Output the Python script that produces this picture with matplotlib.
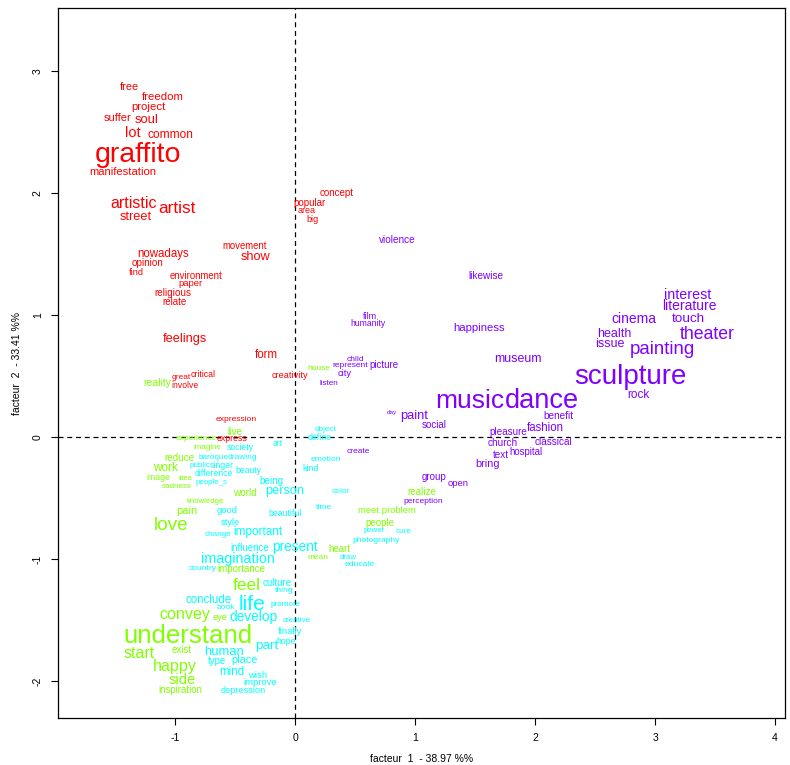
import matplotlib

matplotlib.use("Agg")
import matplotlib.pyplot as plt  # noqa: E402

plt.rcParams["font.family"] = ["Liberation Sans", "DejaVu Sans"]
plt.rcParams["axes.unicode_minus"] = False

# Four clusters of the word map (R rainbow(4) palette).
CLUSTER_COLORS = ["#FF0000", "#80FF00", "#00FFFF", "#8000FF"]

# cluster 1 (red): word, factor 1, factor 2, font size
red_words = ["free", "freedom", "project", "suffer", "soul", "lot", "common",
             "graffito", "manifestation", "artistic", "artist", "street",
             "concept", "popular", "area", "big", "nowadays", "opinion", "find",
             "movement", "show", "environment", "paper", "religious", "relate",
             "feelings", "form", "great", "critical", "involve", "creativity",
             "expression", "express"]
red_x = [-1.383, -1.10, -1.225, -1.475, -1.233, -1.35, -1.042, -1.308, -1.433,
         -1.342, -0.983, -1.325, 0.35, 0.125, 0.10, 0.142, -1.10, -1.225,
         -1.325, -0.417, -0.325, -0.825, -0.875, -1.017, -1.008, -0.917,
         -0.242, -0.95, -0.767, -0.917, -0.042, -0.492, -0.525]
red_y = [2.877, 2.795, 2.713, 2.623, 2.615, 2.508, 2.492, 2.336, 2.18, 1.926,
         1.885, 1.82, 2.008, 1.926, 1.869, 1.795, 1.516, 1.434, 1.361, 1.574,
         1.492, 1.328, 1.27, 1.189, 1.115, 0.82, 0.689, 0.50, 0.525, 0.434,
         0.516, 0.156, 0.0]
red_size = [7.9, 8.2, 8.2, 8, 9.4, 10.5, 8.6, 20.5, 8.1, 11.5, 12.3, 9.2,
            7, 7, 6.5, 6.5, 8.3, 7.1, 6.7, 6.9, 9.2, 6.9, 6.8, 7.1, 7,
            9.2, 8.3, 6, 6.3, 6.2, 6.6, 6.1, 6.2]

# cluster 2 (green)
green_words = ["reality", "house", "live", "experience", "imagine", "reduce",
               "work", "image", "idea", "sadness", "world", "knowledge", "pain",
               "love", "importance", "feel", "convey", "eye", "understand",
               "start", "exist", "happy", "side", "inspiration", "realize",
               "meet problem", "people", "heart", "mean"]
green_x = [-1.15, 0.20, -0.50, -0.825, -0.733, -0.967, -1.083, -1.142, -0.917,
           -0.983, -0.417, -0.75, -0.90, -1.033, -0.45, -0.40, -0.917, -0.625,
           -0.892, -1.30, -0.942, -1.00, -0.942, -0.958, 1.058, 0.767, 0.708,
           0.367, 0.192]
green_y = [0.451, 0.574, 0.049, 0.0, -0.074, -0.164, -0.238, -0.32, -0.328,
           -0.393, -0.451, -0.516, -0.598, -0.705, -1.074, -1.205, -1.443,
           -1.467, -1.607, -1.762, -1.738, -1.869, -1.975, -2.066, -0.443,
           -0.59, -0.697, -0.91, -0.975]
green_size = [7.5, 6, 7.2, 6, 5.8, 7.1, 8.5, 6.3, 5.3, 5.8, 7.2, 5.6, 8, 13.7,
              7, 12.5, 11.6, 6.7, 18.6, 11.5, 7, 11.6, 10.6, 6.9, 7.1, 6.8, 7,
              6.9, 6]

# cluster 3 (cyan)
cyan_words = ["society", "art", "object", "define", "baroque", "drawing",
              "public", "singer", "difference", "beauty", "people_s", "being",
              "person", "kind", "emotion", "color", "time", "beautiful", "good",
              "style", "change", "important", "influence", "present",
              "imagination", "country", "culture", "thing", "conclude", "life",
              "book", "promote", "develop", "creative", "finally", "hope", "part",
              "human", "type", "place", "mind", "wish", "improve", "depression",
              "power", "cure", "photography", "draw", "educate"]
cyan_x = [-0.458, -0.142, 0.258, 0.208, -0.683, -0.442, -0.792, -0.608, -0.675,
          -0.392, -0.70, -0.192, -0.083, 0.133, 0.258, 0.383, 0.242, -0.083,
          -0.567, -0.542, -0.642, -0.308, -0.375, 0.0, -0.475, -0.767, -0.15,
          -0.092, -0.717, -0.358, -0.575, -0.083, -0.342, 0.017, -0.042,
          -0.075, -0.233, -0.592, -0.65, -0.425, -0.525, -0.308, -0.292,
          -0.433, 0.658, 0.908, 0.675, 0.442, 0.542]
cyan_y = [-0.074, -0.041, 0.074, 0.008, -0.156, -0.156, -0.221, -0.221, -0.287,
          -0.262, -0.361, -0.352, -0.426, -0.246, -0.172, -0.434, -0.566,
          -0.615, -0.59, -0.689, -0.787, -0.762, -0.902, -0.885, -0.984,
          -1.066, -1.189, -1.246, -1.32, -1.352, -1.385, -1.361, -1.459,
          -1.492, -1.582, -1.664, -1.697, -1.746, -1.828, -1.82, -1.91, -1.943,
          -2.0, -2.066, -0.754, -0.762, -0.836, -0.975, -1.033]
cyan_size = [6.2, 6.2, 5.9, 6.3, 5.9, 6, 5.8, 6.3, 6.2, 6.2, 5.7, 7.1, 9.2, 6.3,
             6.1, 6, 6.1, 6.3, 6.8, 6.7, 5.9, 8.5, 7, 9.9, 10.4, 6.1, 7, 6, 8.3,
             15.2, 6, 5.9, 9.9, 5.8, 6.8, 6.2, 9.7, 9.4, 6.9, 7.8, 8.3, 6.8, 6.8,
             6.6, 5.6, 5.9, 6, 5.7, 6.1]

# cluster 4 (purple)
purple_words = ["violence", "likewise", "film", "humanity", "happiness", "child",
                "represent", "picture", "city", "listen", "museum", "cinema",
                "interest", "literature", "touch", "health", "issue", "theater",
                "painting", "sculpture", "rock", "music", "dance", "benefit",
                "fashion", "pleasure", "classical", "church", "text", "hospital",
                "bring", "day", "paint", "social", "create", "group", "open",
                "perception"]
purple_x = [0.85, 1.592, 0.625, 0.608, 1.533, 0.50, 0.458, 0.742, 0.417, 0.283,
            1.858, 2.825, 3.275, 3.283, 3.275, 2.658, 2.625, 3.433, 3.058,
            2.792, 2.858, 1.458, 2.058, 2.192, 2.083, 1.775, 2.158, 1.733,
            1.717, 1.925, 1.60, 0.808, 0.992, 1.158, 0.525, 1.158, 1.358, 1.067]
purple_y = [1.623, 1.328, 1.0, 0.943, 0.902, 0.648, 0.598, 0.598, 0.533, 0.451,
            0.656, 0.984, 1.18, 1.09, 0.984, 0.861, 0.779, 0.861, 0.738, 0.516,
            0.361, 0.32, 0.32, 0.18, 0.09, 0.049, -0.033, -0.041, -0.139,
            -0.115, -0.213, 0.205, 0.189, 0.107, -0.107, -0.32, -0.369, -0.516]
purple_size = [7.2, 7.2, 6.5, 6.2, 8.2, 6, 6, 7, 6.7, 5.9, 9, 10, 10.3, 10, 9.7,
               9, 9, 12.7, 13.4, 20, 8.5, 19, 19.6, 7.2, 8.3, 7.1, 7.2, 7.2,
               7.1, 6.9, 7.8, 4.5, 9.3, 7, 6, 7, 6.8, 6]

clusters = [
    (red_words, red_x, red_y, red_size),
    (green_words, green_x, green_y, green_size),
    (cyan_words, cyan_x, cyan_y, cyan_size),
    (purple_words, purple_x, purple_y, purple_size),
]

fig = plt.figure(figsize=(7.9, 7.65), dpi=100)
ax = fig.add_axes([0.0734, 0.0614, 0.9203, 0.928])

for color, (words, xs, ys, sizes) in zip(CLUSTER_COLORS, clusters):
    for w, x, y, s in zip(words, xs, ys, sizes):
        ax.text(x, y, w, color=color, fontsize=s, ha="center",
                va="center_baseline")

ax.axhline(0, color="black", lw=0.9, ls=(0, (4, 3)))
ax.axvline(0, color="black", lw=0.9, ls=(0, (4, 3)))

ax.set_xlim(-1.975, 4.083)
ax.set_ylim(-2.303, 3.516)
ax.set_xticks(range(-1, 5))
ax.set_yticks(range(-2, 4))
ax.tick_params(direction="out", length=5, width=0.8, labelsize=7.5, pad=6)
for lab in ax.get_yticklabels():
    lab.set_rotation(90)
    lab.set_va("center")
for sp in ax.spines.values():
    sp.set_linewidth(0.9)

ax.set_xlabel("facteur  1  - 38.97 %%", fontsize=7.5, labelpad=8)
ax.set_ylabel("facteur  2  - 33.41 %%", fontsize=7.5, labelpad=8)

fig.savefig("out.png", dpi=100)
